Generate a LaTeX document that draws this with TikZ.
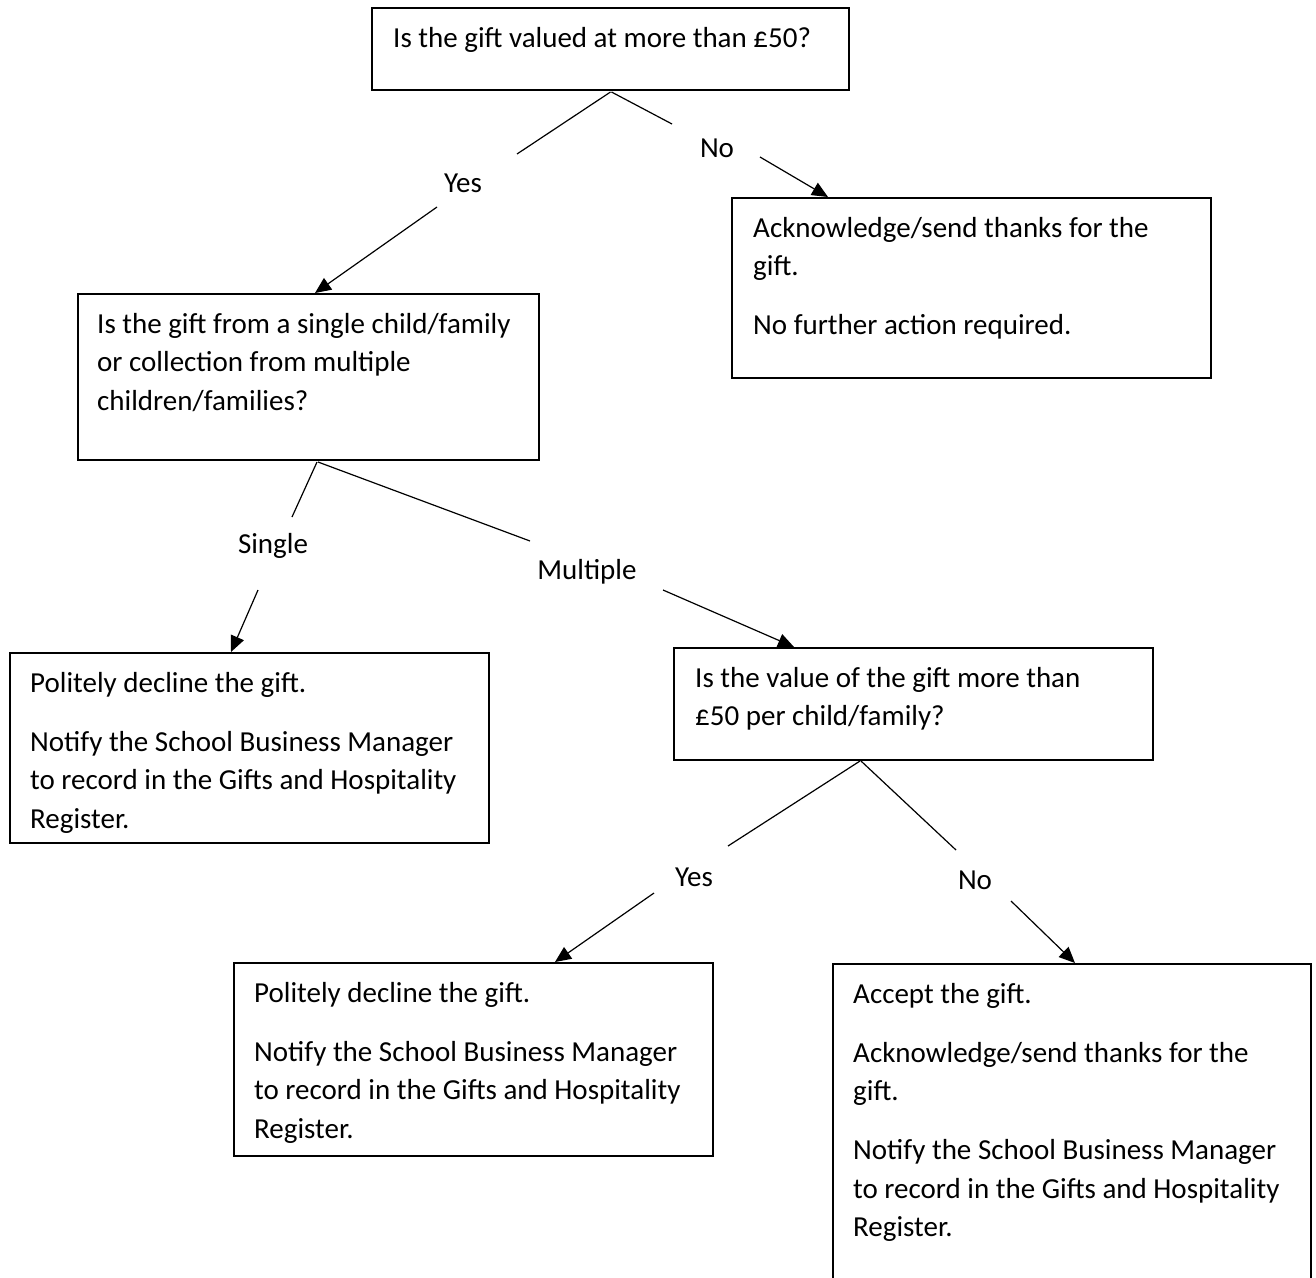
\documentclass[tikz,border=0pt]{standalone}
\usepackage{fontspec}
\setmainfont{Carlito}
\usetikzlibrary{arrows.meta,calc}
\begin{document}
\begin{tikzpicture}[x=1pt,y=-1pt,
  box/.style={draw, line width=1.7pt, inner sep=0pt, outer sep=0pt, anchor=north west},
  txt/.style={anchor=base west, align=left, inner sep=0pt, font=\fontsize{29}{38.5}\selectfont},
  lbl/.style={inner sep=0pt, font=\fontsize{29}{38.5}\selectfont},
  conn/.style={line width=1.2pt},
  arr/.style={conn, -{Triangle[length=16pt,width=14pt]}}]
\useasboundingbox (0,0) rectangle (1316,1277);
\clip (0,0) rectangle (1316,1277);
\fill[white] (0,0) rectangle (1316,1277);

% boxes
\node[box, minimum width=477pt, minimum height=82pt]  (A) at (372,8)   {};
\node[box, minimum width=479pt, minimum height=180pt] (B) at (732,198) {};
\node[box, minimum width=461pt, minimum height=166pt] (C) at (78,294)  {};
\node[box, minimum width=479pt, minimum height=190pt] (D) at (10,653)  {};
\node[box, minimum width=479pt, minimum height=112pt] (E) at (674,648) {};
\node[box, minimum width=479pt, minimum height=193pt] (F) at (234,963) {};
\node[box, minimum width=478pt, minimum height=340pt] (G) at (833,964) {};

% texts (anchored at the baseline of their last line)
\node[txt] (At) at (393,47) {Is the gift valued at more than £50?};
\node[txt] (Bt) at (753,334.5) {Acknowledge/send thanks for the\\ gift.\\[20.5pt] No further action required.};
\node[txt] (Ct) at (97,410) {Is the gift from a single child/family\\ or collection from multiple\\ children/families?};
\node[txt] (Dt) at (30,828) {Politely decline the gift.\\[20.5pt] Notify the School Business Manager\\ to record in the Gifts and Hospitality\\ Register.};
\node[txt] (Et) at (695,725.5) {Is the value of the gift more than\\ £50 per child/family?};
\node[txt] (Ft) at (254,1138) {Politely decline the gift.\\[20.5pt] Notify the School Business Manager\\ to record in the Gifts and Hospitality\\ Register.};
\node[txt] (Gt) at (853,1236.5) {Accept the gift.\\[20.5pt] Acknowledge/send thanks for the\\ gift.\\[20.5pt] Notify the School Business Manager\\ to record in the Gifts and Hospitality\\ Register.};

% labels
\node[lbl] (yes1) at (463,183) {Yes};
\node[lbl] (no1) at (717,148) {No};
\node[lbl] (single) at (273,546) {Single};
\node[lbl] (multiple) at (587,572) {Multiple};
\node[lbl] (yes2) at (694,877) {Yes};
\node[lbl] (no2) at (975,880) {No};

% connector coordinates
\coordinate (ya) at (517,154);
\coordinate (yb) at (437,207);
\coordinate (na) at (672,124);
\coordinate (nb) at (760,157);
\coordinate (sa) at (292,517);
\coordinate (sb) at (258,590);
\coordinate (ma) at (530,541);
\coordinate (mb) at (663,590);
\coordinate (y2a) at (728,846);
\coordinate (y2b) at (654,893);
\coordinate (n2a) at (956,850);
\coordinate (n2b) at (1011,901);

% connectors
\draw[conn] ($(A.south)+(0,2)$) -- (ya);
\draw[arr] (yb) -- ($(C.north west)+(237,-1)$);
\draw[conn] ($(A.south)+(1,2)$) -- (na);
\draw[arr] (nb) -- ($(B.north west)+(96,-1)$);
\draw[conn] ($(C.south west)+(239,2)$) -- (sa);
\draw[arr] (sb) -- ($(D.north west)+(221,-1)$);
\draw[conn] ($(C.south west)+(240,2)$) -- (ma);
\draw[arr] (mb) -- ($(E.north west)+(120,-1)$);
\draw[conn] ($(E.south west)+(186,1)$) -- (y2a);
\draw[arr] (y2b) -- ($(F.north west)+(321,-1)$);
\draw[conn] ($(E.south west)+(187,1)$) -- (n2a);
\draw[arr] (n2b) -- ($(G.north west)+(242,-1)$);
\end{tikzpicture}
\end{document}
